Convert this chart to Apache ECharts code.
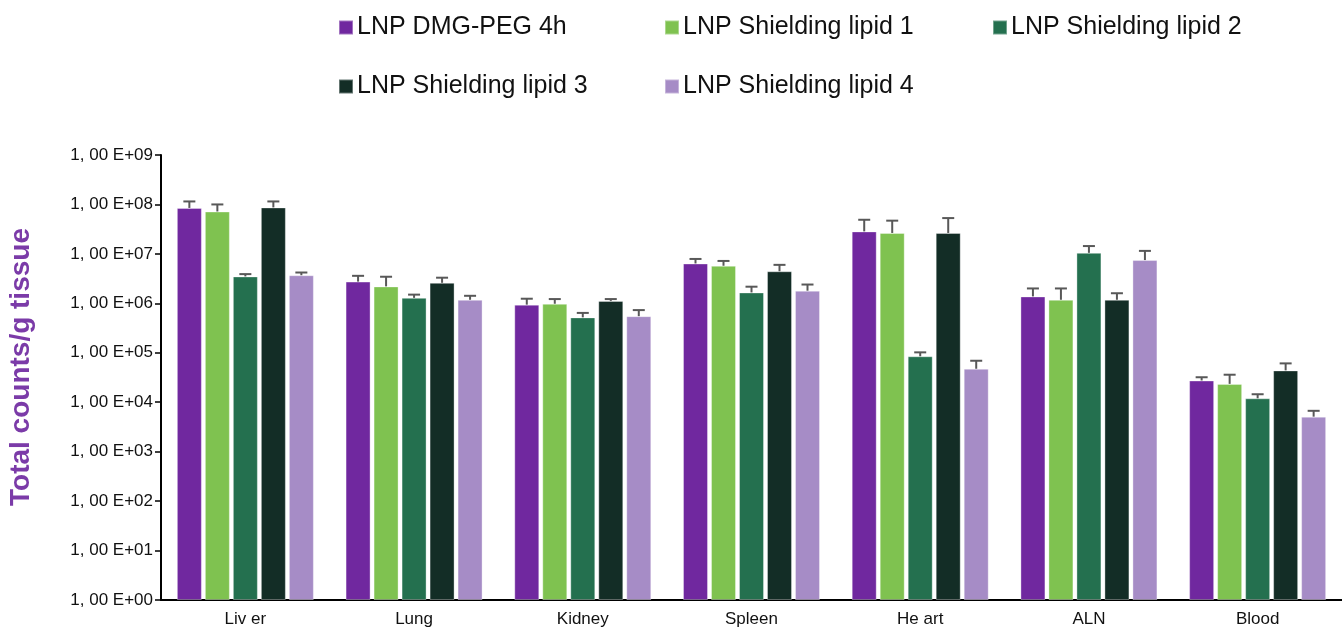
<!DOCTYPE html>
<html>
<head>
<meta charset="utf-8">
<script src="https://cdn.jsdelivr.net/npm/echarts@6/dist/echarts.min.js"></script>
<style>
html,body{margin:0;padding:0;background:#fff;}
#chart{width:1342px;height:628px;}
</style>
</head>
<body>
<div id="chart"></div>
<script>
// ---- data ----
const categories = ['Liv er', 'Lung', 'Kidney', 'Spleen', 'He art', 'ALN', 'Blood'];
const seriesNames = ['LNP DMG-PEG 4h', 'LNP Shielding lipid 1', 'LNP Shielding lipid 2', 'LNP Shielding lipid 3', 'LNP Shielding lipid 4'];

const dmgPeg   = [8.5e7, 2.75e6, 9.4e5, 6.4e6, 2.85e7, 1.38e6, 2.75e4];
const dmgPegHi = [1.15e8, 3.6e6, 1.24e6, 7.9e6, 4.9e7, 2.0e6, 3.2e4];
const lipid1   = [7.2e7, 2.2e6, 9.8e5, 5.75e6, 2.65e7, 1.18e6, 2.35e4];
const lipid1Hi = [1.0e8, 3.45e6, 1.22e6, 7.2e6, 4.7e7, 2.0e6, 3.6e4];
const lipid2   = [3.5e6, 1.29e6, 5.2e5, 1.66e6, 8.5e4, 1.05e7, 1.2e4];
const lipid2Hi = [3.9e6, 1.5e6, 6.4e5, 2.17e6, 1.02e5, 1.44e7, 1.45e4];
const lipid3   = [8.7e7, 2.6e6, 1.12e6, 4.45e6, 2.65e7, 1.18e6, 4.4e4];
const lipid3Hi = [1.15e8, 3.3e6, 1.22e6, 6.0e6, 5.3e7, 1.6e6, 6.1e4];
const lipid4   = [3.7e6, 1.18e6, 5.5e5, 1.8e6, 4.75e4, 7.5e6, 5.1e3];
const lipid4Hi = [4.2e6, 1.42e6, 7.3e5, 2.4e6, 6.9e4, 1.15e7, 6.7e3];

const yTickExponents = [0, 1, 2, 3, 4, 5, 6, 7, 8, 9];

// ---- styles ----
const colors = ['#70289f', '#7fc250', '#24704f', '#132d26', '#a68cc6'];
const BAR_W = 25;
const BAR_GAP = 3;

const means = [dmgPeg, lipid1, lipid2, lipid3, lipid4];
const highs = [dmgPegHi, lipid1Hi, lipid2Hi, lipid3Hi, lipid4Hi];

const chart = echarts.init(document.getElementById('chart'), null, {renderer: 'canvas'});

const barSeries = seriesNames.map((name, i) => ({
  name: name,
  type: 'bar',
  barWidth: BAR_W,
  barGap: (BAR_GAP / BAR_W * 100) + '%',
  itemStyle: {color: colors[i], borderColor: 'rgba(255,255,255,0.35)', borderWidth: 1},
  data: means[i],
  z: 2
}));

const errSeries = seriesNames.map((name, i) => ({
  name: name + ' err',
  type: 'custom',
  z: 3,
  encode: {x: 0, y: 1},
  data: categories.map((c, k) => [k, means[i][k], highs[i][k]]),
  renderItem: function (params, api) {
    const k = api.value(0);
    const p0 = api.coord([k, api.value(1)]);
    const p1 = api.coord([k, api.value(2)]);
    const x = p0[0] + (i - 2) * (BAR_W + BAR_GAP);
    const cap = 6;
    const style = {stroke: '#585858', lineWidth: 2};
    return {
      type: 'group',
      children: [
        {type: 'line', shape: {x1: x, y1: p0[1], x2: x, y2: p1[1]}, style: style},
        {type: 'line', shape: {x1: x - cap, y1: p1[1], x2: x + cap, y2: p1[1]}, style: style}
      ]
    };
  }
}));

const legendPos = [
  {left: 333, top: 10},
  {left: 659, top: 10},
  {left: 987, top: 10},
  {left: 333, top: 69},
  {left: 659, top: 69}
];

const option = {
  animation: false,
  legend: seriesNames.map((n, i) => ({
    data: [n],
    left: legendPos[i].left,
    top: legendPos[i].top,
    icon: 'rect',
    itemWidth: 14,
    itemHeight: 14,
    itemGap: 0,
    textStyle: {fontFamily: 'Liberation Sans, Arial, sans-serif', fontSize: 25, color: '#111', padding: [0, 0, 0, -1]},
    selectedMode: false
  })),
  graphic: [{
    type: 'text',
    x: 21,
    y: 367,
    rotation: Math.PI / 2,
    style: {
      text: 'Total counts/g tissue',
      fill: '#7b3ba8',
      font: 'bold 28px "Liberation Sans", Arial, sans-serif',
      textAlign: 'center',
      textVerticalAlign: 'middle'
    }
  }],
  grid: {left: 161, width: 1184, top: 155, bottom: 28, containLabel: false},
  xAxis: {
    type: 'category',
    data: categories,
    axisLine: {lineStyle: {color: '#000', width: 2}},
    axisTick: {show: false},
    axisLabel: {fontFamily: 'Liberation Sans, Arial, sans-serif', fontSize: 17, color: '#111', margin: 11}
  },
  yAxis: {
    type: 'log',
    logBase: 10,
    min: Math.pow(10, yTickExponents[0]),
    max: Math.pow(10, yTickExponents[yTickExponents.length - 1]),
    splitNumber: yTickExponents.length - 1,
    axisLine: {show: true, lineStyle: {color: '#000', width: 2}},
    axisTick: {show: true, length: 6, lineStyle: {color: '#000', width: 1.5}},
    splitLine: {show: false},
    axisLabel: {
      fontFamily: 'Liberation Sans, Arial, sans-serif',
      fontSize: 17,
      color: '#111',
      margin: 8,
      formatter: function (v) {
        const e = Math.round(Math.log10(v));
        return '1, 00 E+' + String(e).padStart(2, '0');
      }
    }
  },
  series: barSeries.concat(errSeries)
};

chart.setOption(option);
</script>
</body>
</html>
